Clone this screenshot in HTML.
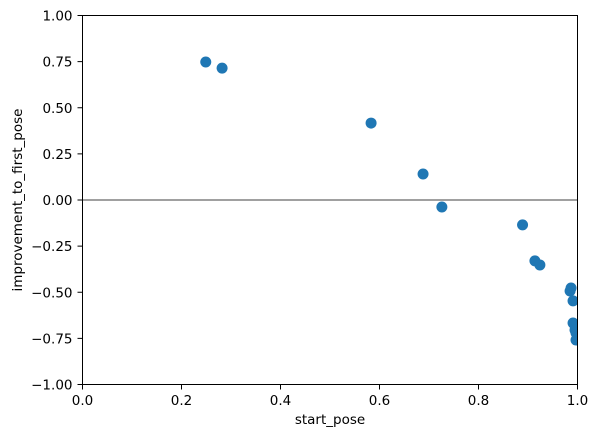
<!DOCTYPE html>
<html><head><meta charset="utf-8"><style>body{margin:0;background:#fff}svg{display:block;font-family:"DejaVu Sans","Liberation Sans",sans-serif}</style></head>
<body>
<svg id="chart" width="598" height="438" viewBox="0 0 598 438" xmlns="http://www.w3.org/2000/svg">
<g id="plot"></g>
</svg>
<script>
const xs = [0.249,0.282,0.583,0.688,0.726,0.889,0.914,0.924,0.985,0.987,0.991,0.991,0.995,0.997,0.997];
const ys = [0.748,0.715,0.417,0.141,-0.038,-0.135,-0.330,-0.352,-0.493,-0.477,-0.547,-0.667,-0.705,-0.721,-0.759];
const xTicks = [0,0.2,0.4,0.6,0.8,1.0];
const xTickLabels = ["0.0","0.2","0.4","0.6","0.8","1.0"];
const yTicks = [1,0.75,0.5,0.25,0,-0.25,-0.5,-0.75,-1];
const yTickLabels = ["1.00","0.75","0.50","0.25","0.00","−0.25","−0.50","−0.75","−1.00"];
const L=82.5,R=577.5,T=15.5,B=384.5;
const FS=13.5;
const sx=v=>L+(v-0)/(1-0)*(R-L);
const sy=v=>B-(v+1)/2*(B-T);
const NS="http://www.w3.org/2000/svg";
const g=document.getElementById('plot');
function mk(tag,attrs,parent){const e=document.createElementNS(NS,tag);for(const k in attrs)e.setAttribute(k,attrs[k]);(parent||g).appendChild(e);return e;}
const defs=mk('defs',{});
const cp=mk('clipPath',{id:'clip'},defs);
mk('rect',{x:L,y:T,width:R-L,height:B-T},cp);
const hl=mk('line',{x1:L,x2:R,y1:sy(0),y2:sy(0),stroke:'#808080','stroke-width':1.5});


const pts=mk('g',{'clip-path':'url(#clip)'});


xs.forEach((x,i)=>{const c=mk('circle',{cx:sx(x),cy:sy(ys[i]),r:5.5,fill:'#1f77b4'},pts);

});
const fr=mk('rect',{x:L,y:T,width:R-L,height:B-T,fill:'none',stroke:'#000','stroke-width':1});


xTicks.forEach((v,i)=>{const x=sx(v);mk('line',{x1:x,x2:x,y1:B,y2:B+5,stroke:'#000'});
const t=mk('text',{x:x,y:B+20.5,'text-anchor':'middle','font-size':FS});t.textContent=xTickLabels[i];

});
yTicks.forEach((v,i)=>{const y=sy(v);mk('line',{x1:L-5,x2:L,y1:y,y2:y,stroke:'#000'});
const t=mk('text',{x:L-10,y:y+5,'text-anchor':'end','font-size':FS});t.textContent=yTickLabels[i];

});
const xt=mk('text',{x:(L+R)/2,y:424,'text-anchor':'middle','font-size':FS});xt.textContent='start_pose';


const yt=mk('text',{x:0,y:0,'text-anchor':'middle','font-size':FS,transform:`translate(22,${(T+B)/2}) rotate(-90)`});yt.textContent='improvement_to_first_pose';


</script>
</body></html>
